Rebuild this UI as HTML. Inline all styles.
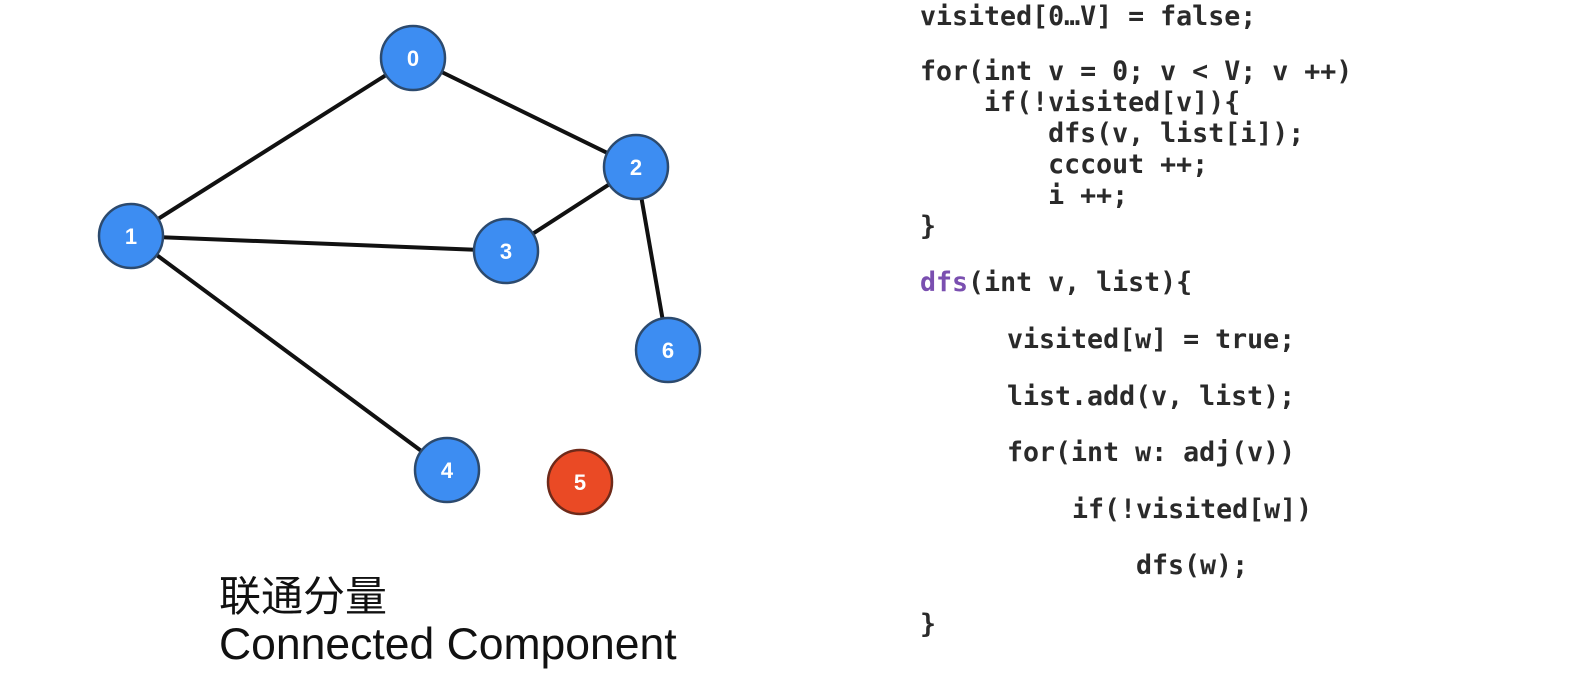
<!DOCTYPE html>
<html><head><meta charset="utf-8"><style>
body{margin:0;width:1586px;height:683px;background:#fff;position:relative;overflow:hidden}
.c{position:absolute;font-family:"DejaVu Sans Mono","Liberation Mono",monospace;font-weight:bold;font-size:26.6px;color:#2a2a2a;white-space:pre;line-height:31px}
.t{position:absolute;font-family:"Liberation Sans","Noto Sans CJK SC",sans-serif;color:#111;white-space:nowrap}
</style></head><body>
<svg width="900" height="560" style="position:absolute;left:0;top:0">
<g stroke="#111" stroke-width="4" stroke-linecap="round">
<line x1="131" y1="236" x2="413" y2="58"/>
<line x1="413" y1="58" x2="636" y2="167"/>
<line x1="131" y1="236" x2="506" y2="251"/>
<line x1="506" y1="251" x2="636" y2="167"/>
<line x1="636" y1="167" x2="668" y2="350"/>
<line x1="131" y1="236" x2="447" y2="470"/>
</g>
<g stroke="#2c4a6e" stroke-width="2.5" fill="#3d8df2">
<circle cx="413" cy="58" r="32"/><circle cx="131" cy="236" r="32"/><circle cx="636" cy="167" r="32"/>
<circle cx="506" cy="251" r="32"/><circle cx="668" cy="350" r="32"/><circle cx="447" cy="470" r="32"/>
<circle cx="580" cy="482" r="32" fill="#ea4a25" stroke="#6e2a1a"/>
</g>
<g fill="#fff" font-family="Liberation Sans,sans-serif" font-weight="bold" font-size="22" text-anchor="middle">
<text x="413" y="66">0</text><text x="131" y="244">1</text><text x="636" y="175">2</text>
<text x="506" y="259">3</text><text x="668" y="358">6</text><text x="447" y="478">4</text><text x="580" y="490">5</text>
</g>
</svg>
<div class="t" style="left:219px;top:563px;font-size:42px;font-family:'Noto Sans CJK SC',sans-serif">联通分量</div>
<div class="t" style="left:219px;top:620px;font-size:44.5px">Connected Component</div>
<div class="c" style="left:920px;top:1px">visited[0…V] = false;</div>
<div class="c" style="left:920px;top:56px">for(int v = 0; v &lt; V; v ++)
    if(!visited[v]){
        dfs(v, list[i]);
        cccout ++;
        i ++;
}</div>
<div class="c" style="left:920px;top:267px"><span style="color:#7a4fb0">dfs</span>(int v, list){</div>
<div class="c" style="left:1007px;top:324px">visited[w] = true;</div>
<div class="c" style="left:1007px;top:381px">list.add(v, list);</div>
<div class="c" style="left:1007px;top:437px">for(int w: adj(v))</div>
<div class="c" style="left:1072px;top:494px">if(!visited[w])</div>
<div class="c" style="left:1136px;top:550px">dfs(w);</div>
<div class="c" style="left:920px;top:609px">}</div>
</body></html>
